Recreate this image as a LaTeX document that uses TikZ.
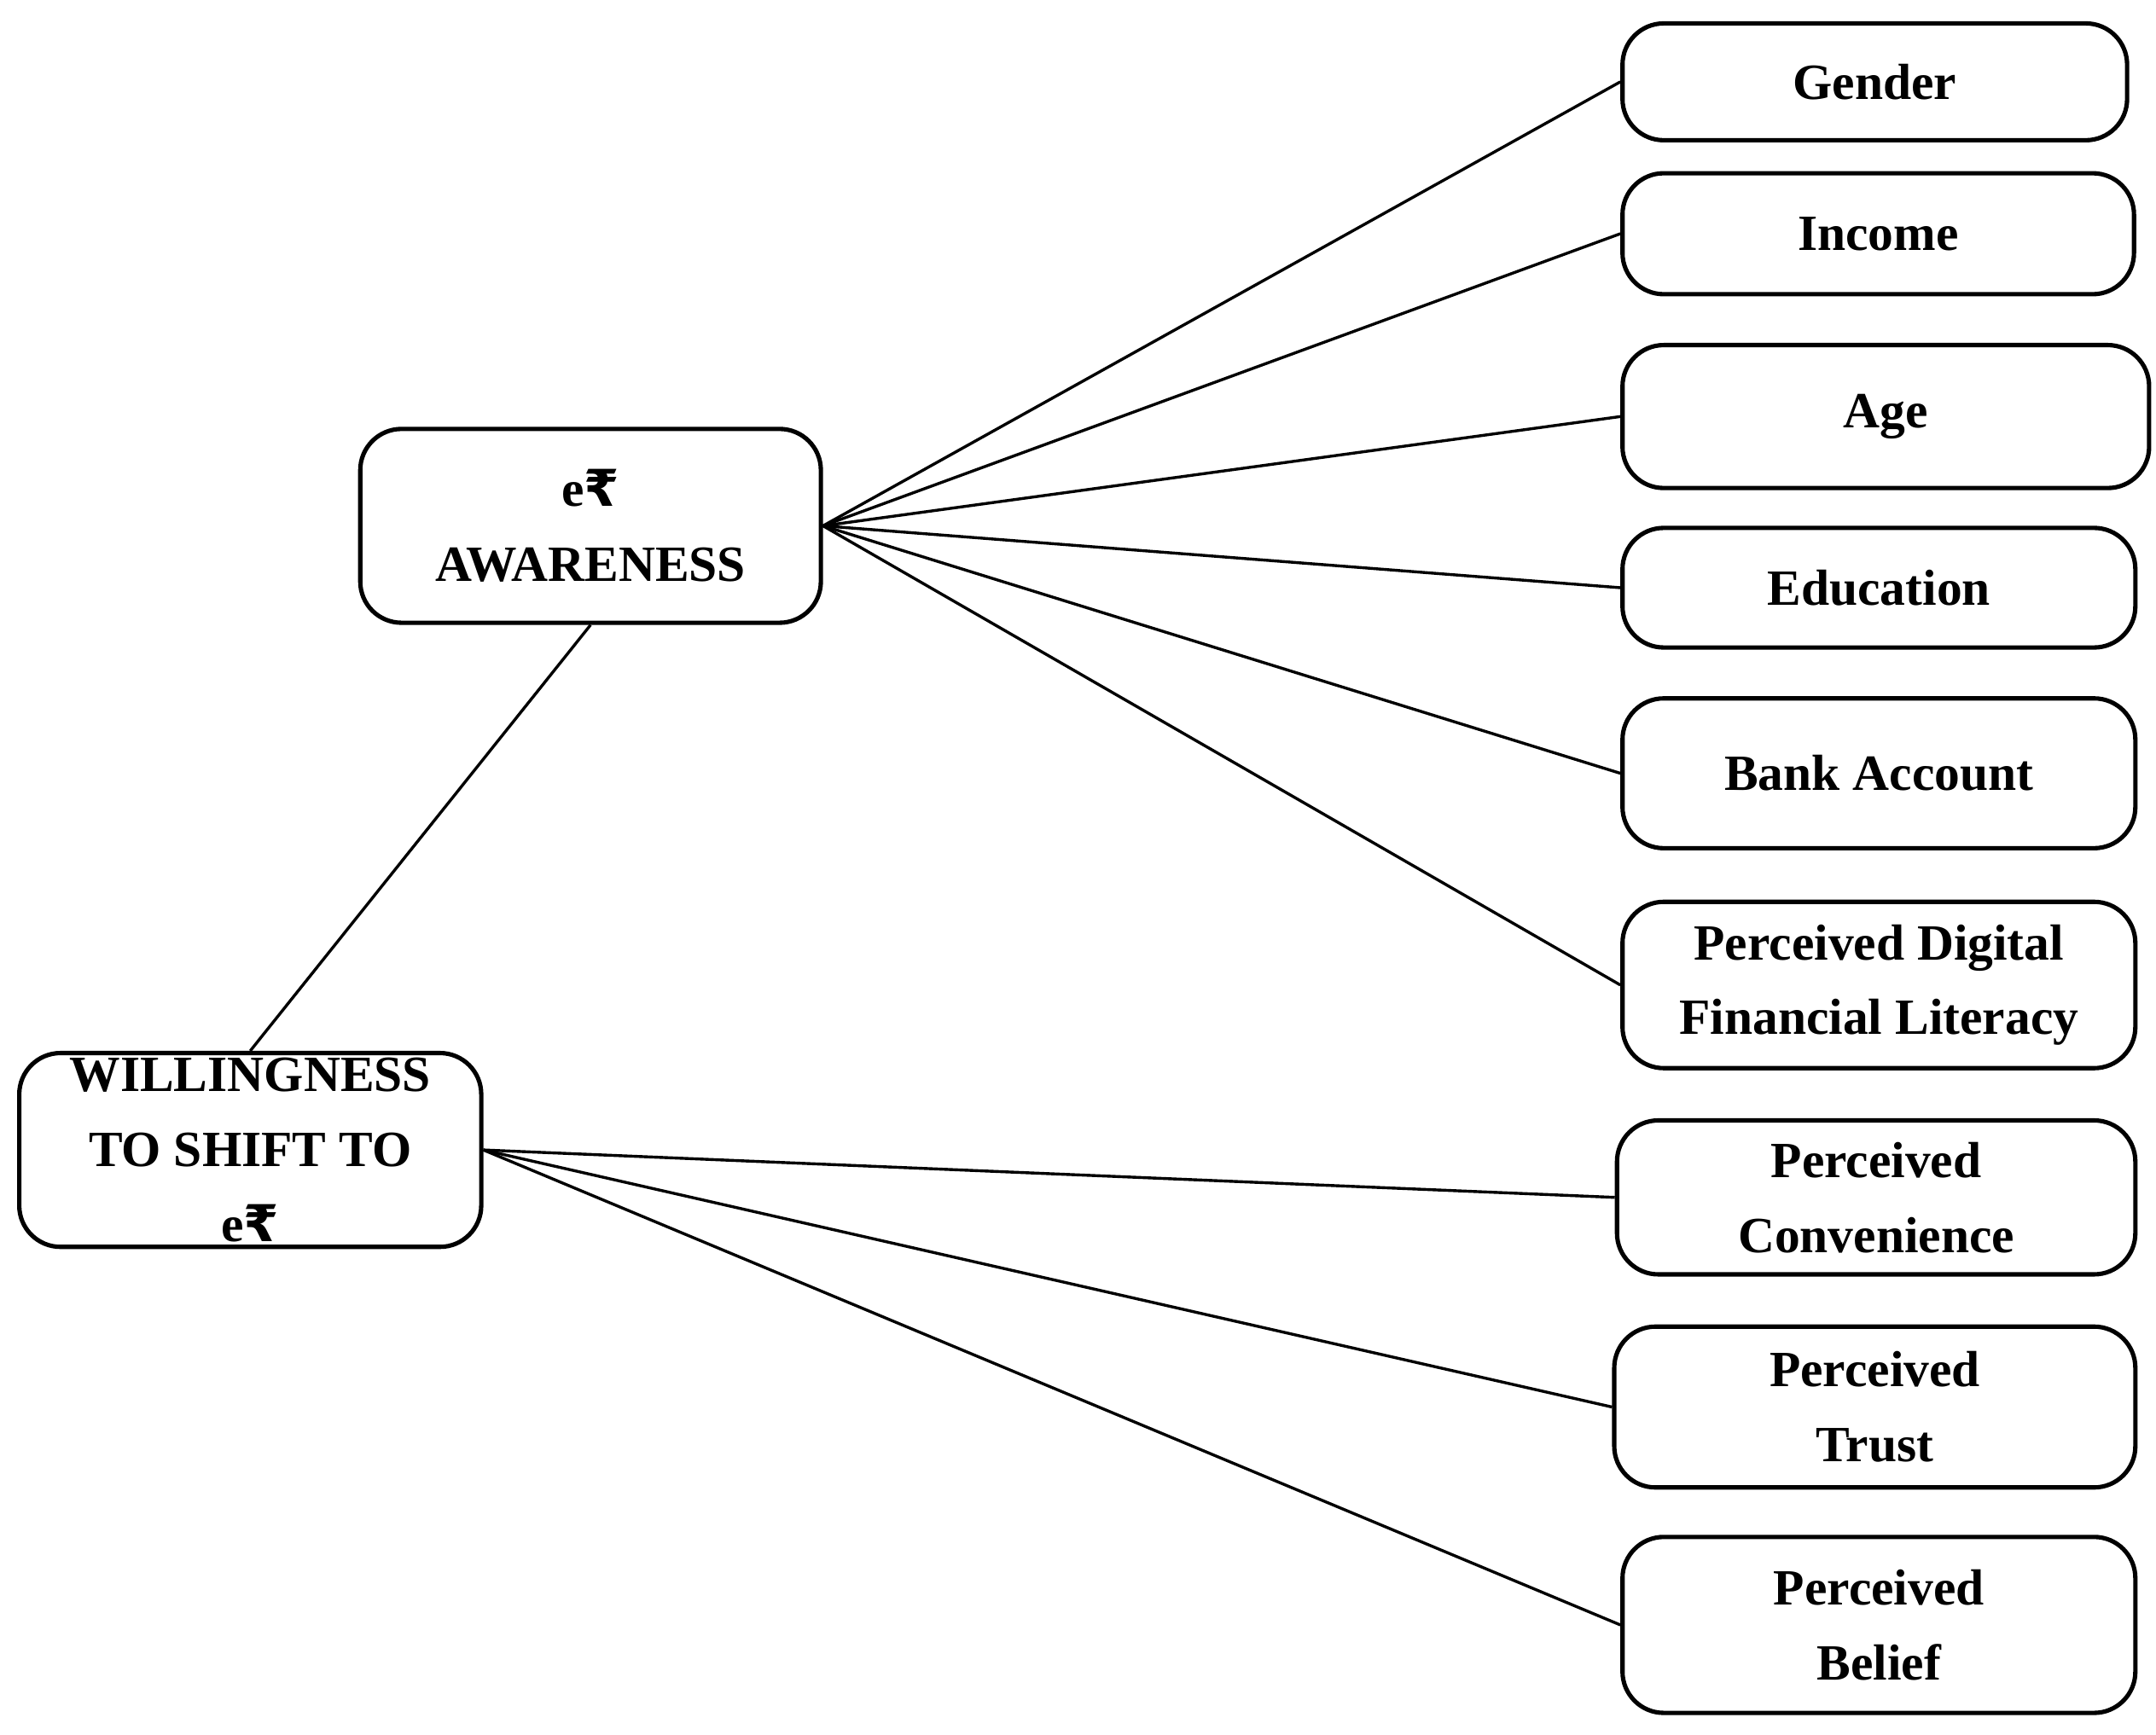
\documentclass[tikz,border=0pt]{standalone}
\usepackage{fontspec}
\setmainfont{Liberation Serif}
\newfontfamily\rupfont{DejaVu Sans}
\newcommand{\rup}{{\rupfont\bfseries ₹}}
\begin{document}
\begin{tikzpicture}[x=0.01cm,y=-0.01cm,
  box/.style={draw,line width=0.9pt,rounded corners=0.3cm,inner sep=0pt,align=center,font=\bfseries\fontsize{10.5}{15.5}\selectfont},
  conn/.style={line width=0.6pt}]
\useasboundingbox (0,0) rectangle (1568,1262);
\newcommand{\bx}[6]{\node[box,minimum width={(#4-#2)*0.01cm},minimum height={(#5-#3)*0.01cm}] (#1) at ({(#2+#4)/2},{(#3+#5)/2}) {#6};}
\bx{g}{1180}{17}{1547}{102}{Gender}
\bx{inc}{1180}{126}{1552}{214}{Income}
\bx{age}{1180}{251}{1563}{355}{Age}
\bx{edu}{1180}{384}{1553}{471}{Education}
\bx{bank}{1180}{508}{1553}{617}{Bank Account}
\bx{pdfl}{1180}{656}{1553}{777}{Perceived Digital\\Financial Literacy}
\bx{conv}{1176}{815}{1553}{927}{Perceived\\Convenience}
\bx{trust}{1174}{965}{1553}{1082}{Perceived\\Trust}
\bx{bel}{1180}{1118}{1553}{1246}{Perceived\\Belief}
\bx{aw}{262}{312}{597}{453}{e\rup\\AWARENESS}
\bx{will}{14}{766}{350}{907}{WILLINGNESS\\TO SHIFT TO\\e\rup}
\foreach \t in {g,inc,age,edu,bank,pdfl} \draw[conn] (aw.east) -- (\t.west);
\foreach \t in {conv,trust,bel} \draw[conn] (will.east) -- (\t.west);
\draw[conn] (aw.south) -- (will.north);
\end{tikzpicture}
\end{document}
